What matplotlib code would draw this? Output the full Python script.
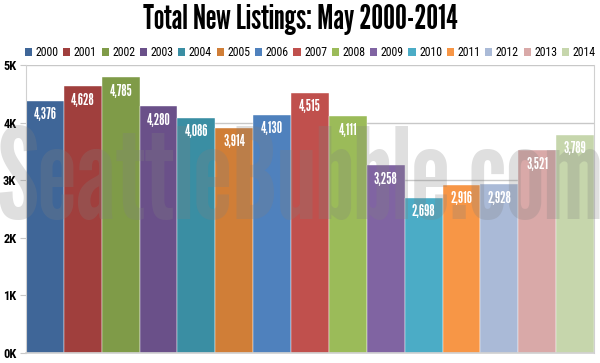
import matplotlib
matplotlib.use("Agg")
from matplotlib import pyplot as plt
from matplotlib.patches import Patch

years = ['2000', '2001', '2002', '2003', '2004', '2005', '2006', '2007',
         '2008', '2009', '2010', '2011', '2012', '2013', '2014']
listings = [4376, 4628, 4785, 4280, 4086, 3914, 4130, 4515,
            4111, 3258, 2698, 2916, 2928, 3521, 3789]
colors = ['#3F6698', '#A03F3D', '#7F9B48', '#6A5089', '#3A8EA3', '#D07E37',
          '#4F81BD', '#C0504D', '#9BBB59', '#8064A2', '#4BACC6', '#F79646',
          '#AABAD7', '#D9A9A8', '#C6D6AC']
yticks = [0, 1000, 2000, 3000, 4000, 5000]
yticklabels = ['0K', '1K', '2K', '3K', '4K', '5K']

plt.rcParams['font.family'] = ['League Gothic', 'DejaVu Sans']
narrow = ['Roboto Condensed', 'DejaVu Sans']

fig = plt.figure(figsize=(6, 3.63), dpi=100)
ax = fig.add_axes([0.0433, 0.0275, 0.9467, 0.7934])

xs = range(len(years))
ax.bar(xs, listings, width=1.0, color=colors, edgecolor='white', linewidth=0.3, zorder=2)
for x, v in zip(xs, listings):
    ax.text(x, v - 110, f'{v:,}', color='white', ha='center', va='top',
            fontsize=11, zorder=4)

ax.set_xlim(-0.5, len(years) - 0.5)
ax.set_ylim(0, 5000)
ax.set_yticks(yticks)
ax.set_yticklabels(yticklabels, fontsize=9, fontweight='bold', family=narrow)
ax.set_xticks([])
ax.grid(axis='y', color='#C8C8C8', linewidth=1, zorder=0)
ax.spines['top'].set_visible(False)
for side in ['left', 'right', 'bottom']:
    ax.spines[side].set_color('#D0D0D0')
ax.spines['bottom'].set_linewidth(1.2)
ax.tick_params(axis='y', length=4, color='#C8C8C8', pad=3)

# watermark
ax.text(0.482, 0.585, 'SeattleBubble.com', transform=ax.transAxes, ha='center', va='center',
        fontsize=90, color='#808080', alpha=0.25, zorder=3)

fig.suptitle('Total New Listings: May 2000-2014', y=0.99, fontsize=24)

handles = [Patch(facecolor=c, label=y) for c, y in zip(colors, years)]
fig.legend(handles=handles, loc='center', bbox_to_anchor=(0.517, 0.855), ncol=15,
           frameon=False, prop={'family': narrow, 'size': 8.5}, handlelength=0.6,
           handleheight=0.6, handletextpad=0.3, columnspacing=0.4, borderaxespad=0)

plt.savefig('out.png', dpi=100)
